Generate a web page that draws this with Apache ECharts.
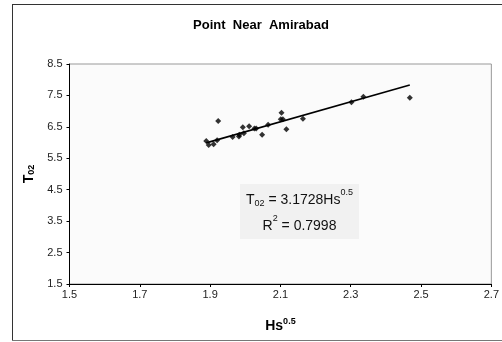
<!DOCTYPE html>
<html>
<head>
<meta charset="utf-8">
<script src="https://cdn.jsdelivr.net/npm/echarts@6/dist/echarts.min.js"></script>
<style>
  html, body { margin: 0; padding: 0; background: #fff; }
  #chart { width: 502px; height: 342px; }
</style>
</head>
<body>
<div id="chart"></div>
<script>
const hsRoot = [1.889, 1.896, 1.910, 1.920, 1.923, 1.964, 1.982, 1.983, 1.993, 1.996,
  2.011, 2.026, 2.031, 2.048, 2.065, 2.103, 2.101, 2.107, 2.117, 2.164,
  2.302, 2.336, 2.468];
const t02 = [6.05, 5.92, 5.95, 6.07, 6.69, 6.18, 6.19, 6.25, 6.49, 6.30,
  6.52, 6.45, 6.45, 6.25, 6.57, 6.95, 6.74, 6.74, 6.42, 6.76,
  7.28, 7.46, 7.43];

// trendline ends (T02 = 3.1728 Hs^0.5)
const trendX = [1.889, 2.468];
const trendY = [5.99, 7.83];

const xTicks = [1.5, 1.7, 1.9, 2.1, 2.3, 2.5, 2.7];
const yTicks = [1.5, 2.5, 3.5, 4.5, 5.5, 6.5, 7.5, 8.5];

const FONT = 'Liberation Sans, Arial, sans-serif';

const chart = echarts.init(document.getElementById('chart'));

const option = {
  animation: false,
  backgroundColor: '#fff',
  title: {
    text: 'Point  Near  Amirabad',
    left: 261,
    textAlign: 'center',
    top: 19,
    padding: 0,
    textStyle: { fontFamily: FONT, fontSize: 13, fontWeight: 'bold', color: '#000' }
  },
  grid: {
    left: 69.5,
    right: 3.5,
    top: 64,
    bottom: 58,
    show: true,
    backgroundColor: '#fbfbfb',
    borderColor: '#999',
    borderWidth: 1
  },
  xAxis: {
    type: 'value',
    min: xTicks[0],
    max: xTicks[xTicks.length - 1],
    interval: 0.2,
    name: '{b|Hs}{sup|0.5}',
    nameLocation: 'middle',
    nameGap: 33,
    nameTextStyle: {
      rich: {
        b: { fontFamily: FONT, fontSize: 14, fontWeight: 'bold', color: '#000' },
        sup: { fontFamily: FONT, fontSize: 9, fontWeight: 'bold', color: '#000', padding: [0, 0, 9, 0] }
      }
    },
    axisLine: { lineStyle: { color: '#000', width: 1 } },
    axisTick: { inside: false, length: 3, lineStyle: { color: '#000' } },
    axisLabel: {
      margin: 5,
      fontFamily: FONT, fontSize: 11, color: '#222',
      showMaxLabel: true,
      formatter: v => v.toFixed(1)
    },
    splitLine: { show: false }
  },
  yAxis: {
    type: 'value',
    min: yTicks[0],
    max: yTicks[yTicks.length - 1],
    interval: 1,
    name: '{b|T}{sub|02}',
    nameLocation: 'middle',
    nameGap: 33,
    nameTextStyle: {
      rich: {
        b: { fontFamily: FONT, fontSize: 14, fontWeight: 'bold', color: '#000' },
        sub: { fontFamily: FONT, fontSize: 9, fontWeight: 'bold', color: '#000', padding: [5, 0, 0, 0] }
      }
    },
    axisLine: { show: true, lineStyle: { color: '#000', width: 1 } },
    axisTick: { show: true, inside: false, length: 3, lineStyle: { color: '#000' } },
    axisLabel: {
      margin: 7,
      fontFamily: FONT, fontSize: 11, color: '#222',
      formatter: v => v.toFixed(1)
    },
    splitLine: { show: false }
  },
  series: [
    {
      type: 'scatter',
      symbol: 'diamond',
      symbolSize: 6,
      itemStyle: { color: '#000' },
      data: hsRoot.map((x, i) => [x, t02[i]])
    },
    {
      type: 'line',
      symbol: 'none',
      lineStyle: { color: '#000', width: 1.6 },
      data: trendX.map((x, i) => [x, trendY[i]])
    }
  ],
  graphic: [
    { type: 'line', shape: { x1: 12.5, y1: 4, x2: 12.5, y2: 341 }, style: { stroke: '#333', lineWidth: 1 } },
    { type: 'line', shape: { x1: 12, y1: 4.5, x2: 502, y2: 4.5 }, style: { stroke: '#333', lineWidth: 1 } },
    { type: 'line', shape: { x1: 12, y1: 340.5, x2: 502, y2: 340.5 }, style: { stroke: '#777', lineWidth: 1 } },
    {
      type: 'rect',
      shape: { x: 240, y: 184, width: 119, height: 55 },
      style: { fill: '#f1f1f1' },
      z: 10
    },
    {
      type: 'text',
      x: 299.5,
      y: 213,
      z: 11,
      style: {
        text: '{t|T}{sub|02}{t| = 3.1728Hs}{sup|0.5}\n{t|R}{sup|2}{t| = 0.7998}',
        align: 'center',
        verticalAlign: 'middle',
        rich: {
          t: { fontFamily: FONT, fontSize: 14, fill: '#111', lineHeight: 26 },
          sub: { fontFamily: FONT, fontSize: 9, fill: '#111', padding: [7, 0, 0, 0] },
          sup: { fontFamily: FONT, fontSize: 9, fill: '#111', padding: [0, 0, 14, 0] }
        }
      }
    }
  ]
};

chart.setOption(option);
</script>
</body>
</html>
